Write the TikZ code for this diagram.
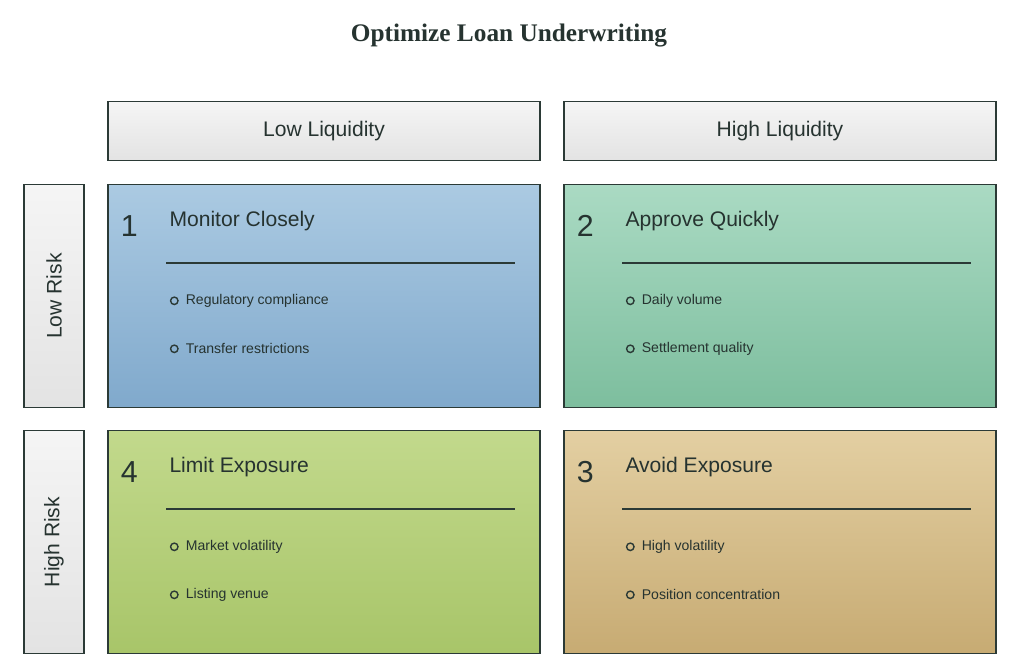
\documentclass[tikz,border=0pt]{standalone}
\usepackage{fontspec}
\setmainfont{Liberation Sans}
\newfontfamily\titlefont{Liberation Serif}
\usetikzlibrary{positioning}
\definecolor{inkline}{HTML}{2B3A36}
\definecolor{textdark}{HTML}{263330}
\definecolor{bluetop}{HTML}{ABCAE2}
\definecolor{bluebot}{HTML}{80A9CC}
\definecolor{greentop}{HTML}{AADAC3}
\definecolor{greenbot}{HTML}{7DBE9E}
\definecolor{olivetop}{HTML}{C2D98C}
\definecolor{olivebot}{HTML}{A8C569}
\definecolor{tantop}{HTML}{E3CFA2}
\definecolor{tanbot}{HTML}{C7AB73}

\tikzset{
  headbox/.style={draw=inkline,thick,top color=gray!8,bottom color=gray!22,
    minimum width=432*0.02cm,minimum height=59*0.02cm,font=\large,text=textdark},
  sidebox/.style={draw=inkline,thick,top color=gray!8,bottom color=gray!22,
    minimum width=223*0.02cm,minimum height=60*0.02cm,rotate=90,font=\large,text=textdark},
  quad/.style={draw=inkline,thick,minimum width=432*0.02cm,minimum height=223*0.02cm},
  qnum/.style={font=\LARGE,text=textdark},
  qtitle/.style={font=\large,text=textdark,anchor=west},
  bullet/.style={font=\footnotesize,text=textdark,anchor=west,inner sep=1pt}
}

\begin{document}
\begin{tikzpicture}[x=0.02cm,y=-0.02cm]
    \useasboundingbox[fill=white] (0,0) rectangle (1018,670);
    \node[font=\titlefont\Large\bfseries,text=textdark] (title) at (509,36) {Optimize Loan Underwriting};
    % column and row headers
    \node[headbox] (lowliq) at (324,131) {Low Liquidity};
    \node[headbox] (highliq) at (780,131) {High Liquidity};
    \node[sidebox] (lowrisk) at (54,296) {Low Risk};
    \node[sidebox] (highrisk) at (54,542) {High Risk};
    % quadrants
    \node[quad,top color=bluetop,bottom color=bluebot] (q1) at (324,296) {};
    \node[quad,top color=greentop,bottom color=greenbot] (q2) at (780,296) {};
    \node[quad,top color=olivetop,bottom color=olivebot] (q4) at (324,542) {};
    \node[quad,top color=tantop,bottom color=tanbot] (q3) at (780,542) {};
    \foreach \q/\n/\t/\a/\b in {q1/1/Monitor Closely/Regulatory compliance/Transfer restrictions,
                              q2/2/Approve Quickly/Daily volume/Settlement quality,
                              q4/4/Limit Exposure/Market volatility/Listing venue,
                              q3/3/Avoid Exposure/High volatility/Position concentration}{
      \node[qnum] (\q num) at ([xshift=22*0.02cm,yshift=-42*0.02cm]\q.north west) {\n};
      \node[qtitle] (\q title) at ([xshift=56*0.02cm,yshift=-37*0.02cm]\q.north west) {\t};
      \coordinate (\q l) at ([xshift=59*0.02cm,yshift=-79*0.02cm]\q.north west);
      \coordinate (\q r) at ([xshift=408*0.02cm,yshift=-79*0.02cm]\q.north west);
      \draw[thick,inkline] (\q l) -- (\q r);
      \node[draw=inkline,thick,circle,inner sep=1.5pt] (\q ba) at ([xshift=67*0.02cm,yshift=-117*0.02cm]\q.north west) {};
      \node[bullet] (\q ta) at ([xshift=5*0.02cm]\q ba.east) {\a};
      \node[draw=inkline,thick,circle,inner sep=1.5pt] (\q bb) at ([xshift=67*0.02cm,yshift=-165*0.02cm]\q.north west) {};
      \node[bullet] (\q tb) at ([xshift=5*0.02cm]\q bb.east) {\b};
    }
\end{tikzpicture}
\end{document}
